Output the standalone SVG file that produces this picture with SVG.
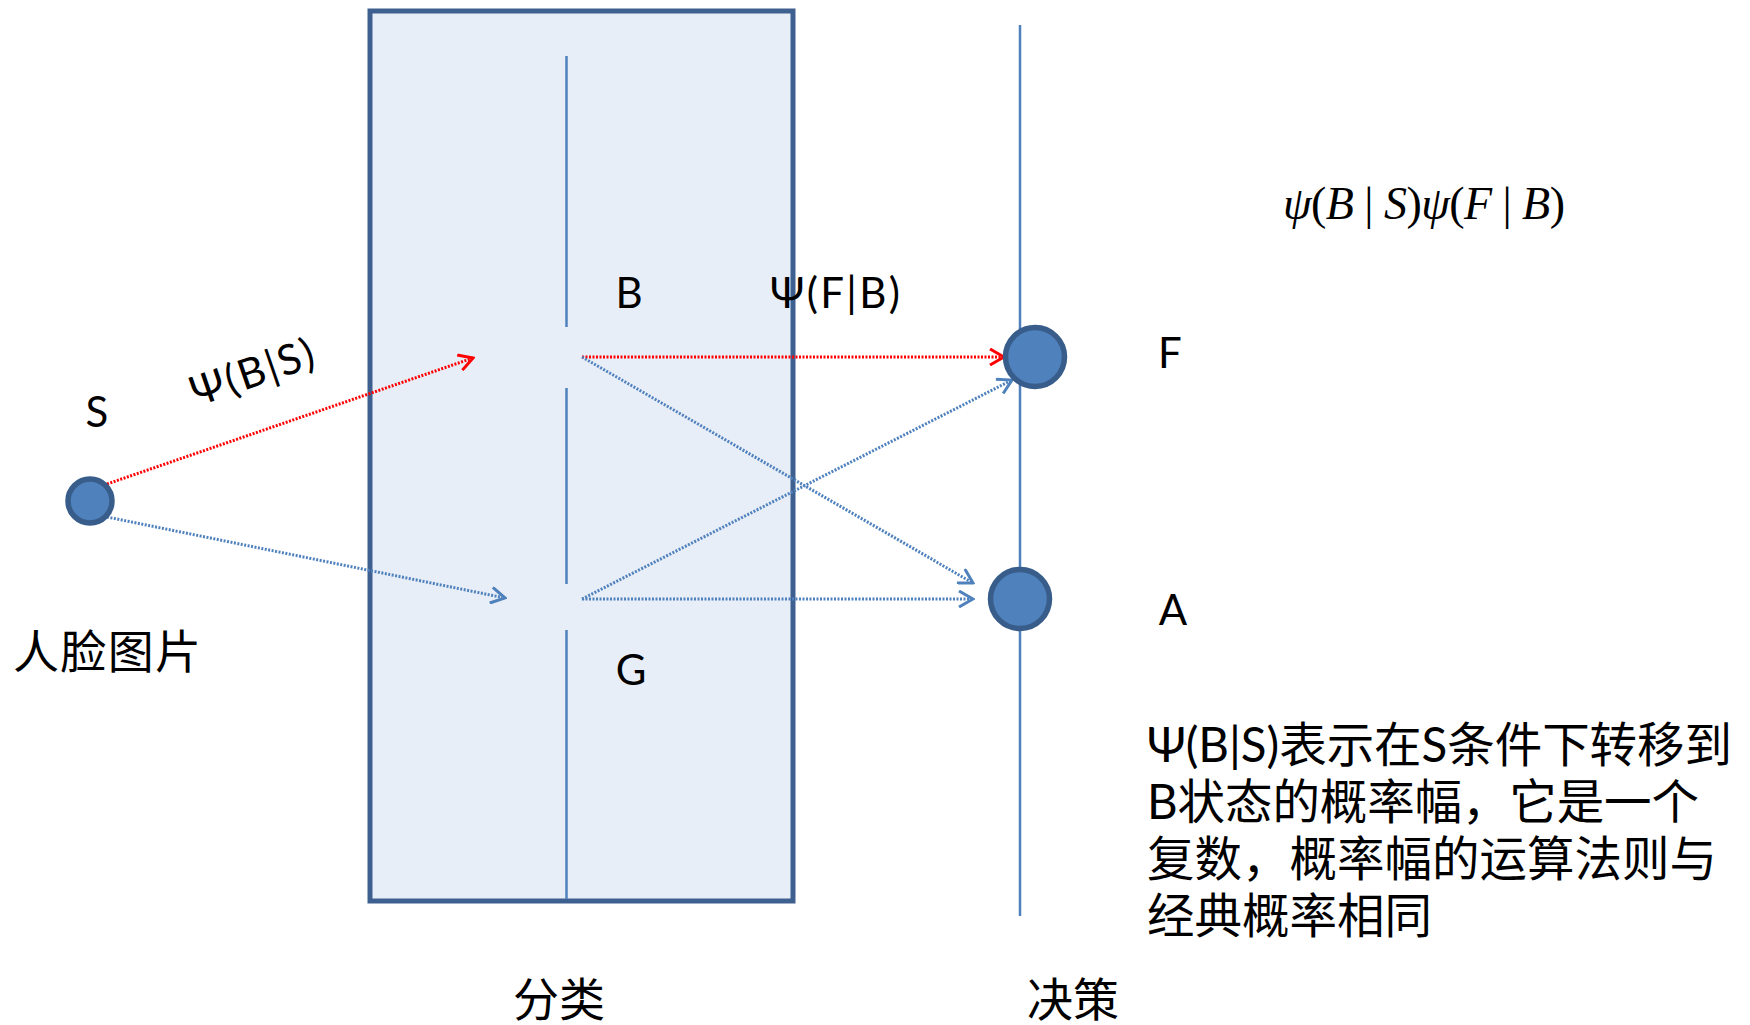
<svg xmlns="http://www.w3.org/2000/svg" width="1750" height="1025" viewBox="0 0 1750 1025">
<style>
.lbl{font-family:Lato,"Open Sans","Noto Sans CJK SC",sans-serif;font-size:42px;fill:#000}
.cjk{font-family:Lato,"Noto Sans CJK SC",sans-serif;font-size:46px;fill:#000}
.para{font-family:Lato,"Noto Sans CJK SC",sans-serif;font-size:47.5px;fill:#000}
.math{font-family:"Liberation Serif","Times New Roman",serif;font-size:46px;fill:#000}
.node{fill:#4f81bd;stroke:#385d8a;stroke-width:5.5}
.guide{stroke:#4f81bd;stroke-width:2.5;fill:none}
.red{stroke:#ff0000;stroke-width:3;stroke-dasharray:2 1.5;fill:none;marker-end:url(#ahR)}
.blue{stroke:#4f81bd;stroke-width:3;stroke-dasharray:2 1.5;fill:none;marker-end:url(#ahB)}
</style>
<defs>
<marker id="ahR" markerUnits="userSpaceOnUse" viewBox="0 0 18 18" refX="16" refY="9" markerWidth="18" markerHeight="18" orient="auto">
<path d="M2,1 L16,9 L2,17" fill="none" stroke="#ff0000" stroke-width="3"/>
</marker>
<marker id="ahB" markerUnits="userSpaceOnUse" viewBox="0 0 18 18" refX="16" refY="9" markerWidth="18" markerHeight="18" orient="auto">
<path d="M2,1 L16,9 L2,17" fill="none" stroke="#4f81bd" stroke-width="3"/>
</marker>
</defs>
<rect width="1750" height="1025" fill="#ffffff"/>
<g id="classify-box">
<rect x="370" y="11" width="423" height="890" fill="#e8eef7" stroke="#3e6090" stroke-width="5"/>
<line class="guide" x1="566.5" y1="56" x2="566.5" y2="327"/>
<line class="guide" x1="566.5" y1="388" x2="566.5" y2="584"/>
<line class="guide" x1="566.5" y1="630" x2="566.5" y2="899"/>
</g>
<g id="decision-line">
<line class="guide" x1="1020" y1="25" x2="1020" y2="916"/>
</g>
<g id="connectors">
<line class="red" x1="107" y1="484" x2="473" y2="358"/>
<line class="blue" x1="107" y1="517" x2="505" y2="598"/>
<line class="red" x1="582" y1="357" x2="1004" y2="357"/>
<line class="blue" x1="582" y1="357" x2="973" y2="583"/>
<line class="blue" x1="582" y1="599" x2="1012" y2="380"/>
<line class="blue" x1="582" y1="599" x2="973" y2="599"/>
</g>
<g id="node-S">
<circle class="node" cx="90" cy="501" r="22"/>
<text class="lbl" x="97" y="427" text-anchor="middle">S</text>
<text class="cjk" x="13" y="668" textLength="188">人脸图片</text>
</g>
<g id="node-F">
<circle class="node" cx="1035" cy="357" r="29.5"/>
<text class="lbl" x="1170" y="368" text-anchor="middle">F</text>
</g>
<g id="node-A">
<circle class="node" cx="1020" cy="599" r="29.5"/>
<text class="lbl" x="1173" y="625" text-anchor="middle">A</text>
</g>
<g id="node-B">
<text class="lbl" x="629" y="308" text-anchor="middle">B</text>
</g>
<g id="node-G">
<text class="lbl" x="631" y="685" text-anchor="middle">G</text>
</g>
<g id="labels">
<text class="lbl" x="252" y="387" font-size="45" text-anchor="middle" textLength="128" transform="rotate(-19 252 372)">Ψ(B|S)</text>
<text class="lbl" x="770" y="308" textLength="130">Ψ(F|B)</text>
<text class="math" x="1283" y="219" textLength="282"><tspan font-style="italic">ψ</tspan>(<tspan font-style="italic">B</tspan> | <tspan font-style="italic">S</tspan>)<tspan font-style="italic">ψ</tspan>(<tspan font-style="italic">F</tspan> | <tspan font-style="italic">B</tspan>)</text>
<text class="cjk" x="513" y="1016">分类</text>
<text class="cjk" x="1027" y="1016">决策</text>
<text class="para" x="1147" y="762" textLength="585">Ψ(B|S)表示在S条件下转移到</text>
<text class="para" x="1147" y="819" textLength="552">B状态的概率幅，它是一个</text>
<text class="para" x="1147" y="876">复数，概率幅的运算法则与</text>
<text class="para" x="1147" y="933">经典概率相同</text>
</g>
</svg>
